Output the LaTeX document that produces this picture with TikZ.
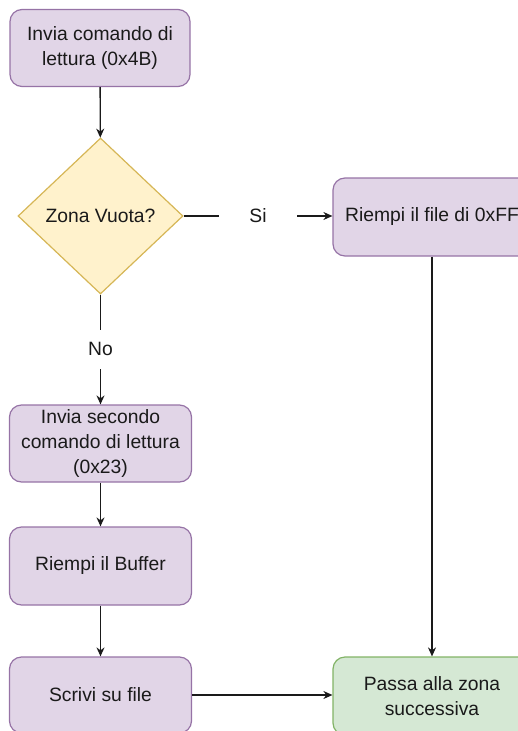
\documentclass[tikz,border=0pt]{standalone}
\usepackage{fontspec}
\setmainfont{Liberation Sans}
\usetikzlibrary{shapes.geometric,arrows.meta}
\definecolor{procfill}{HTML}{E1D5E7}
\definecolor{procline}{HTML}{9673A6}
\definecolor{decfill}{HTML}{FFF2CC}
\definecolor{decline}{HTML}{D6B656}
\definecolor{endfill}{HTML}{D5E8D4}
\definecolor{endline}{HTML}{82B366}
\definecolor{ink}{HTML}{1A1A1A}
\tikzset{
  every node/.style={font=\fontsize{19.3pt}{25pt}\selectfont, text=ink},
  procbox/.style={draw=procline, fill=procfill, line width=1.2pt, rounded corners=12pt,
    minimum width=182pt, minimum height=77pt, align=center, inner sep=2pt},
  finalbox/.style={procbox, draw=endline, fill=endfill, minimum width=198pt, minimum height=78pt},
  decbox/.style={diamond, draw=decline, fill=decfill, line width=1.2pt, aspect=1.06,
    minimum width=165pt, minimum height=156pt, inner sep=0pt, align=center},
  flow/.style={draw=ink, line width=1.3pt, -{Stealth[length=9pt,width=8pt]}},
  edgelabel/.style={fill=white, inner sep=0pt}
}
\begin{document}
\begin{tikzpicture}[x=1pt,y=-1pt]
  \path[use as bounding box] (0,0) rectangle (518,731);
  \begin{scope}
  \clip (0,0) rectangle (518,731);

  \node[procbox, minimum width=180pt] (send1) at (100,48) {Invia comando di\\lettura (0x4B)};
  \node[decbox] (empty) at (100.5,216) {Zona Vuota?};
  \node[procbox, minimum width=198pt, minimum height=78pt] (fillff) at (432,217) {Riempi il file di 0xFF};
  \node[procbox] (send2) at (100.5,443.5) {Invia secondo\\comando di lettura\\(0x23)};
  \node[procbox, minimum height=78pt] (buffer) at (100.5,566) {Riempi il Buffer};
  \node[procbox, minimum height=76pt] (write) at (100.5,695) {Scrivi su file};
  \node[finalbox] (next) at (432,696) {Passa alla zona\\successiva};

  \draw[flow] (send1) -- (empty);
  \draw[flow] (empty.east) -- node[edgelabel, minimum width=78pt, minimum height=20pt] {Si} (fillff.west |- empty.east);
  \draw[flow] (empty) -- node[edgelabel, minimum width=20pt, minimum height=39pt, pos=0.497] {No} (send2);
  \draw[flow] (send2) -- (buffer);
  \draw[flow] (buffer) -- (write);
  \draw[flow] (write.east) -- (next.west |- write.east);
  \draw[flow] (fillff) -- (next);
  \end{scope}
\end{tikzpicture}
\end{document}
